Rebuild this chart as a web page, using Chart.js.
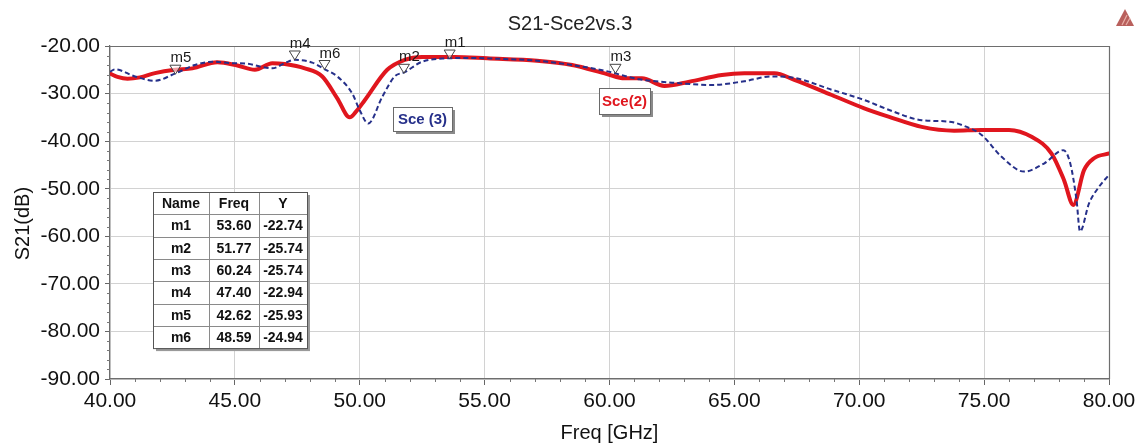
<!DOCTYPE html>
<html><head><meta charset="utf-8">
<script src="https://cdn.jsdelivr.net/npm/chart.js@4.4.1/dist/chart.umd.min.js"></script>
<style>html,body{margin:0;padding:0;background:#fff;overflow:hidden}</style>
</head><body>
<canvas id="c" width="1143" height="443"></canvas>
<script>
// ---- data ----
const sce2Freq = [40.0,40.3,40.7,41.2,41.8,42.6,43.3,44.3,45.1,45.8,46.5,47.0,47.8,48.5,49.1,49.6,49.85,50.2,51.1,51.8,52.5,53.8,55.1,57.1,58.5,59.9,60.6,61.3,62.2,63.2,64.5,65.4,66.6,67.4,68.9,70.2,71.2,72.5,73.8,74.9,76.0,76.9,77.7,78.2,78.57,79.0,79.4,80.0];
const sce2Db   = [-25.8,-26.5,-26.9,-26.6,-25.7,-25.0,-24.7,-23.4,-24.1,-25.0,-23.6,-23.8,-24.7,-26.4,-31.0,-35.0,-33.8,-31.4,-25.0,-22.9,-22.3,-22.3,-22.6,-23.1,-24.0,-25.9,-26.8,-26.8,-28.4,-27.5,-26.1,-25.75,-25.75,-27.1,-30.3,-33.1,-34.9,-37.0,-37.8,-37.65,-37.65,-39.1,-42.6,-48.2,-53.4,-46.1,-43.6,-42.6];
const sce3Freq = [40.0,40.2,41.0,41.8,42.6,43.4,44.1,44.9,45.5,46.0,46.5,47.0,47.4,48.1,48.6,49.1,49.7,50.0,50.34,50.9,51.4,51.8,52.5,53.5,54.5,55.1,57.1,58.5,59.8,61.2,62.5,64.1,65.4,66.5,67.3,68.9,70.2,71.2,72.5,73.6,74.2,74.9,75.7,76.6,77.4,78.17,78.45,78.7,78.84,79.2,79.6,80.0];
const sce3Db   = [-25.4,-24.9,-26.4,-27.3,-25.8,-24.0,-23.3,-23.6,-23.7,-24.3,-24.7,-23.6,-22.9,-23.5,-24.9,-26.4,-30.0,-33.5,-36.3,-30.7,-26.4,-25.5,-23.3,-22.6,-22.5,-22.6,-23.1,-24.0,-25.2,-27.0,-27.7,-28.2,-27.4,-26.4,-26.6,-29.2,-31.35,-33.45,-35.6,-35.9,-36.8,-38.7,-43.3,-46.4,-44.7,-41.9,-44.7,-52.4,-59.0,-53.1,-49.6,-47.1];
const markerNames = ['m1','m2','m3','m4','m5','m6'];
const markerFreq  = [53.60,51.77,60.24,47.40,42.62,48.59];
const markerDb    = [-22.74,-25.74,-25.74,-22.94,-25.93,-24.94];
const seriesNames = ['Sce(2)','Sce (3)'];
const tableHeader = ['Name','Freq','Y'];
const chartTitle = 'S21-Sce2vs.3';
const xTitle = 'Freq [GHz]';
const yTitle = 'S21(dB)';

const FONT = '"Liberation Sans", Arial, Helvetica, sans-serif';
const RED = '#e0161e';
const BLUE = '#26308a';

const toXY = (xs, ys) => xs.map((x, i) => ({x, y: ys[i]}));

const decor = {
  id: 'decor',
  beforeDatasetsDraw(chart) {
    const {ctx, chartArea: a, scales: {x, y}} = chart;
    ctx.save();
    // title
    ctx.fillStyle = '#222'; ctx.font = '20px ' + FONT;
    ctx.textAlign = 'center'; ctx.textBaseline = 'middle';
    ctx.fillText(chartTitle, 570, 24);
    // frame top & right
    ctx.strokeStyle = '#6e6e6e'; ctx.lineWidth = 1.2;
    ctx.beginPath();
    ctx.moveTo(a.left, a.top + 0.5); ctx.lineTo(a.right + 0.5, a.top + 0.5); ctx.lineTo(a.right + 0.5, a.bottom);
    ctx.stroke();
    // minor ticks
    ctx.strokeStyle = '#777'; ctx.lineWidth = 1;
    ctx.beginPath();
    for (let f = 41; f < 80; f++) {
      if (f % 5 === 0) continue;
      const px = Math.round(x.getPixelForValue(f)) + 0.5;
      ctx.moveTo(px, a.bottom); ctx.lineTo(px, a.bottom + 3);
    }
    for (let v = -88; v < -20; v += 2) {
      if (v % 10 === 0) continue;
      const py = Math.round(y.getPixelForValue(v)) + 0.5;
      ctx.moveTo(a.left - 3, py); ctx.lineTo(a.left, py);
    }
    ctx.stroke();
    ctx.restore();
  },
  afterDatasetsDraw(chart) {
    const {ctx, chartArea: a, scales: {x, y}} = chart;
    ctx.save();
    // markers
    ctx.font = '15px ' + FONT;
    ctx.textBaseline = 'alphabetic';
    ctx.textAlign = 'left';
    markerNames.forEach((n, i) => {
      const px = x.getPixelForValue(markerFreq[i]);
      const py = y.getPixelForValue(markerDb[i]);
      ctx.beginPath();
      ctx.moveTo(px, py); ctx.lineTo(px - 5.5, py - 9); ctx.lineTo(px + 5.5, py - 9); ctx.closePath();
      ctx.fillStyle = 'rgba(255,255,255,0.6)'; ctx.fill();
      ctx.strokeStyle = '#444'; ctx.lineWidth = 1; ctx.stroke();
      ctx.fillStyle = '#1a1a1a';
      ctx.fillText(n, px - 5, py - 12);
    });
    // series label boxes
    const box = (text, fx, fy, w, h, color) => {
      const bx = Math.round(x.getPixelForValue(fx)), by = Math.round(y.getPixelForValue(fy));
      ctx.fillStyle = '#8a8a8a'; ctx.fillRect(bx + 3, by + 3, w, h);
      ctx.fillStyle = '#fff'; ctx.fillRect(bx, by, w, h);
      ctx.strokeStyle = '#6a6a6a'; ctx.lineWidth = 1; ctx.strokeRect(bx + 0.5, by + 0.5, w, h);
      ctx.fillStyle = color; ctx.font = 'bold 15px ' + FONT;
      ctx.textAlign = 'center'; ctx.textBaseline = 'middle';
      ctx.fillText(text, bx + w / 2, by + h / 2 + 1);
    };
    box(seriesNames[1], 51.33, -32.8, 59, 24, BLUE);
    box(seriesNames[0], 59.58, -28.83, 51, 26, RED);
    // marker table
    const tx = 153, ty = 192, cw = [56, 50, 48], rh = 22.3;
    const tw = cw[0] + cw[1] + cw[2], th = rh * (markerNames.length + 1);
    ctx.fillStyle = '#9a9a9a'; ctx.fillRect(tx + 3, ty + 3, tw, th);
    ctx.fillStyle = '#fff'; ctx.fillRect(tx, ty, tw, th);
    ctx.strokeStyle = '#8a8a8a'; ctx.lineWidth = 1;
    ctx.beginPath();
    for (let r = 1; r <= markerNames.length; r++) { const yy = Math.round(ty + r * rh) + 0.5; ctx.moveTo(tx, yy); ctx.lineTo(tx + tw, yy); }
    let cx = tx;
    for (let c = 0; c < 2; c++) { cx += cw[c]; ctx.moveTo(cx + 0.5, ty); ctx.lineTo(cx + 0.5, ty + th); }
    ctx.stroke();
    ctx.strokeStyle = '#555'; ctx.strokeRect(tx + 0.5, ty + 0.5, tw, th);
    ctx.fillStyle = '#111'; ctx.font = 'bold 14px ' + FONT;
    ctx.textAlign = 'center'; ctx.textBaseline = 'middle';
    const centers = [tx + cw[0] / 2, tx + cw[0] + cw[1] / 2, tx + cw[0] + cw[1] + cw[2] / 2];
    tableHeader.forEach((h, c) => ctx.fillText(h, centers[c], ty + rh / 2 + 1));
    markerNames.forEach((n, r) => {
      const yy = ty + (r + 1) * rh + rh / 2 + 1;
      ctx.fillText(n, centers[0], yy);
      ctx.fillText(markerFreq[r].toFixed(2), centers[1], yy);
      ctx.fillText(markerDb[r].toFixed(2), centers[2], yy);
    });
    // logo
    ctx.beginPath();
    ctx.moveTo(1125, 9); ctx.lineTo(1116, 26); ctx.lineTo(1134, 26); ctx.closePath();
    ctx.fillStyle = '#b9605c'; ctx.fill();
    ctx.strokeStyle = '#e8b0a8'; ctx.lineWidth = 1.2;
    ctx.beginPath();
    ctx.moveTo(1122, 25); ctx.lineTo(1127, 15);
    ctx.moveTo(1126, 25); ctx.lineTo(1130, 18);
    ctx.stroke();
    ctx.restore();
  }
};

new Chart(document.getElementById('c'), {
  type: 'line',
  data: {
    datasets: [
      { label: seriesNames[1], data: toXY(sce3Freq, sce3Db), borderColor: BLUE, borderWidth: 2,
        borderDash: [5, 3], pointRadius: 0, cubicInterpolationMode: 'monotone', fill: false },
      { label: seriesNames[0], data: toXY(sce2Freq, sce2Db), borderColor: RED, borderWidth: 4,
        pointRadius: 0, cubicInterpolationMode: 'monotone', fill: false, borderCapStyle: 'round', borderJoinStyle: 'round' }
    ]
  },
  options: {
    responsive: false,
    animation: false,
    layout: { padding: { left: 0, right: 34, top: 46, bottom: 0 } },
    plugins: {
      legend: { display: false },
      tooltip: { enabled: false },
      title: { display: false }
    },
    scales: {
      x: {
        type: 'linear', min: 40, max: 80,
        ticks: { stepSize: 5, color: '#111', padding: 4, maxRotation: 0,
          font: { family: FONT, size: 21 }, callback: v => Number(v).toFixed(2) },
        grid: { color: '#d2d2d2', tickColor: '#666', tickLength: 6 },
        border: { color: '#6e6e6e', width: 1.2 },
        title: { display: true, text: xTitle, color: '#111', padding: { top: 0, bottom: 0 },
          font: { family: FONT, size: 20, lineHeight: 1 } },
        afterFit(s) { s.height = 64; }
      },
      y: {
        min: -90, max: -20,
        ticks: { stepSize: 10, color: '#111', padding: 5,
          font: { family: FONT, size: 21 }, callback: v => Number(v).toFixed(2) },
        grid: { color: '#d2d2d2', tickColor: '#666', tickLength: 5 },
        border: { color: '#6e6e6e', width: 1.2 },
        title: { display: true, text: yTitle + '    ', color: '#111', padding: { top: 11, bottom: 0 },
          font: { family: FONT, size: 20 } },
        afterFit(s) { s.width = 110; }
      }
    }
  },
  plugins: [decor]
});
</script>
</body></html>
